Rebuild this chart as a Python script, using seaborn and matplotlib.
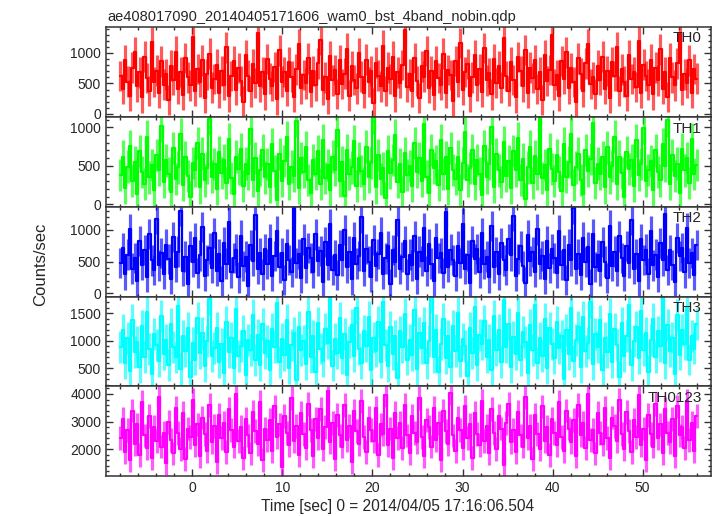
import numpy as np
import pandas as pd
import matplotlib
matplotlib.use('Agg')
import matplotlib.pyplot as plt
from matplotlib.ticker import MultipleLocator
import seaborn as sns

# light curve values (counts/sec), one list per band
th0 = [620, 410, 880, 530, 300, 760, 1010, 450, 680, 270, 940, 590, 380, 1180, 520, 710, 340, 860, 480, 650,
       230, 790, 560, 1020, 410, 690, 310, 920, 600, 470, 1260, 380, 740, 520, 880, 260, 650, 990, 430, 570,
       810, 350, 700, 480, 1090, 290, 620, 870, 400, 750, 540, 200, 960, 630, 370, 820, 510, 1330, 450, 680,
       320, 900, 580, 460, 770, 240, 1040, 530, 690, 380, 850, 610, 280, 730, 1150, 420, 640, 500, 910, 360,
       700, 470, 830, 1210, 390, 600, 250, 950, 550, 720, 330, 880, 490, 660, 1070, 300, 780, 560, 420, 1000,
       610, 340, 890, 520, 700, 180, 840, 630, 450, 1120, 380, 760, 570, 940, 290, 680, 510, 800, 1370, 440,
       650, 370, 920, 540, 260, 780, 610, 1030, 430, 700, 310, 860, 590, 480, 990, 350, 720, 640, 210, 870,
       530, 1160, 400, 690, 820, 290, 600, 960, 470, 740, 360, 1080, 550, 670, 320, 900, 510, 780, 430, 1240,
       620, 380, 850, 560, 270, 930, 700, 450, 1050, 340, 760, 590, 880, 410, 680, 230, 970, 540, 720, 1290,
       480, 640, 300, 870, 580, 1010, 420, 750, 520, 190, 910, 660, 370, 830, 1140, 490, 600, 330, 790, 560,
       940, 410, 700, 260, 850, 620, 1100, 380, 730, 530, 300, 960, 570, 680, 440, 1200, 350, 810, 620, 480,
       890, 320, 760, 550, 1060, 410, 690, 280, 920, 600, 470, 830, 1310, 390, 650, 510, 880, 340, 740, 580]
th1 = [380, 620, 210, 490, 760, 300, 550, 140, 690, 420, 260, 880, 350, 510, 180, 640, 450, 1020, 290, 570,
       400, 160, 730, 330, 480, 910, 250, 610, 370, 90, 540, 440, 800, 220, 660, 310, 470, 1110, 360, 520,
       200, 680, 410, 570, 280, 850, 340, 130, 620, 460, 720, 240, 530, 390, 980, 310, 600, 170, 450, 700,
       350, 520, 230, 780, 430, 60, 650, 300, 560, 870, 270, 490, 370, 1080, 210, 600, 420, 740, 320, 150,
       580, 400, 690, 260, 830, 340, 510, 190, 620, 450, 960, 300, 550, 110, 710, 390, 480, 820, 240, 600,
       430, 270, 750, 360, 540, 1130, 220, 640, 330, 470, 80, 690, 410, 580, 900, 290, 520, 160, 670, 380,
       500, 240, 800, 420, 600, 300, 1050, 360, 150, 710, 470, 560, 250, 840, 390, 610, 200, 730, 450, 330,
       620, 180, 540, 940, 310, 470, 700, 270, 580, 400, 120, 760, 350, 520, 1000, 230, 650, 440, 290, 810,
       370, 560, 210, 690, 440, 860, 320, 590, 70, 480, 750, 280, 630, 400, 1120, 340, 510, 190, 720, 460,
       300, 640, 420, 170, 790, 360, 550, 920, 250, 480, 660, 320, 140, 710, 430, 590, 1060, 280, 530, 390,
       610, 220, 740, 350, 500, 880, 270, 620, 410, 100, 680, 460, 570, 240, 830, 380, 520, 990, 300, 450,
       560, 190, 700, 420, 310, 780, 500, 1090, 260, 640, 370, 530, 150, 720, 440, 600, 280, 850, 390, 510]
th2 = [480, 720, 300, 610, 1010, 390, 560, 200, 830, 450, 680, 260, 940, 520, 370, 1180, 440, 640, 310, 770,
       540, 230, 890, 420, 660, 1300, 350, 580, 150, 740, 490, 870, 320, 600, 1050, 280, 520, 710, 400, 950,
       360, 620, 190, 800, 470, 1120, 330, 560, 690, 250, 910, 430, 580, 120, 760, 510, 1240, 380, 640, 300,
       700, 460, 860, 270, 590, 980, 410, 640, 210, 780, 530, 340, 1350, 480, 620, 240, 850, 400, 720, 560,
       330, 930, 510, 670, 180, 810, 450, 1090, 370, 600, 290, 760, 520, 1000, 410, 660, 220, 880, 470, 590,
       1200, 350, 700, 500, 260, 840, 430, 620, 960, 310, 550, 740, 140, 680, 490, 1150, 380, 570, 820, 300,
       610, 440, 900, 230, 660, 510, 1030, 350, 780, 470, 200, 870, 560, 640, 320, 1280, 420, 690, 530, 270,
       750, 480, 1100, 390, 600, 160, 820, 540, 700, 330, 950, 460, 580, 250, 1060, 410, 650, 300, 790, 520,
       370, 860, 600, 1220, 280, 540, 740, 430, 170, 920, 510, 650, 340, 1010, 470, 590, 230, 830, 400, 700,
       560, 320, 990, 450, 680, 210, 770, 520, 1340, 380, 620, 290, 880, 490, 730, 150, 940, 420, 600, 360,
       810, 500, 240, 1070, 430, 660, 350, 900, 560, 270, 750, 480, 1160, 390, 620, 200, 850, 530, 690, 310,
       980, 440, 610, 260, 790, 520, 1250, 370, 680, 450, 180, 870, 590, 720, 330, 1030, 480, 640, 290, 760]
th3 = [880, 1200, 600, 1050, 450, 1380, 790, 980, 520, 1270, 700, 1530, 850, 400, 1120, 930, 640, 1450, 760, 1010,
       560, 1310, 890, 700, 1640, 480, 1080, 820, 1230, 350, 960, 660, 1410, 780, 1150, 540, 1000, 1760, 720, 870,
       1240, 610, 950, 420, 1350, 800, 1060, 500, 1570, 730, 900, 1180, 380, 1020, 840, 1470, 650, 1100, 560, 1300,
       780, 990, 460, 1220, 880, 1690, 620, 1030, 740, 1380, 510, 920, 1150, 290, 1260, 830, 1000, 580, 1520, 700,
       1090, 430, 1330, 860, 640, 1210, 960, 1780, 550, 1040, 770, 1420, 680, 1130, 370, 980, 1290, 720, 1600, 850,
       590, 1180, 910, 1440, 470, 1060, 810, 1350, 620, 1710, 930, 540, 1250, 760, 1080, 320, 1170, 880, 1480, 660,
       1010, 740, 1560, 480, 1140, 870, 1320, 600, 1000, 1800, 710, 1200, 430, 940, 1390, 690, 1090, 520, 1270, 820,
       1500, 630, 1040, 900, 360, 1230, 780, 1620, 560, 1110, 950, 1360, 700, 1020, 460, 1450, 840, 1190, 610, 1740,
       890, 1300, 520, 1070, 760, 1510, 650, 1160, 980, 410, 1280, 830, 1660, 600, 1050, 720, 1400, 500, 1230, 940,
       690, 1340, 870, 1080, 300, 1190, 760, 1590, 640, 1020, 1250, 530, 1430, 810, 960, 1700, 580, 1120, 880, 1370,
       470, 1060, 790, 1480, 620, 1210, 930, 350, 1330, 720, 1080, 1650, 560, 990, 1260, 680, 1550, 840, 1140, 440,
       1020, 1390, 710, 1170, 900, 1790, 590, 1280, 820, 1060, 400, 1470, 750, 1200, 950, 1620, 660, 1090, 860, 1310]
th0123 = [2400, 3100, 1900, 2700, 1600, 3400, 2200, 2900, 1800, 3700, 2500, 2050, 3200, 1700, 2800, 2300, 3900, 2100, 2600, 1500,
          3000, 2350, 1850, 3500, 2600, 2000, 3300, 1650, 2750, 2450, 3800, 2150, 2900, 1750, 3150, 2550, 1950, 3600, 2250, 2850,
          1550, 3250, 2400, 2950, 1900, 3450, 2700, 2100, 4000, 2300, 2800, 1700, 3100, 2500, 1850, 3350, 2650, 2200, 3700, 1600,
          2750, 2350, 3050, 1950, 3550, 2450, 2900, 1350, 3200, 2600, 2150, 3850, 2300, 2850, 1800, 3300, 2550, 2050, 3650, 2700,
          1750, 3100, 2400, 3450, 2000, 2800, 4100, 2250, 2950, 1650, 3250, 2500, 2100, 3600, 2350, 2850, 1550, 3400, 2650, 2200,
          3750, 2450, 1900, 3150, 2700, 2300, 3500, 1800, 2900, 2550, 3950, 2150, 2750, 1700, 3300, 2400, 2950, 2050, 3600, 2500,
          1850, 3200, 2600, 2250, 3850, 2450, 1750, 3050, 2800, 2100, 3500, 2350, 2950, 1600, 3400, 2650, 2200, 4050, 2500, 1950,
          3150, 2700, 2050, 3550, 2400, 2900, 1700, 3300, 2550, 2150, 3750, 2300, 2850, 1850, 3450, 2600, 2000, 3200, 2750, 1450,
          2950, 3650, 2250, 2700, 1900, 3350, 2500, 2100, 3900, 2400, 2850, 1650, 3250, 2550, 2000, 3550, 2300, 2800, 1800, 3100,
          2600, 2150, 3700, 2450, 1950, 3400, 2750, 2250, 3050, 1750, 3600, 2500, 2950, 2050, 4000, 2350, 2700, 1850, 3300, 2600,
          2200, 3500, 2400, 1700, 3150, 2850, 2300, 3800, 2550, 2000, 3350, 2650, 1900, 3050, 2450, 3950, 2150, 2750, 1600, 3250,
          2550, 2100, 3650, 2400, 2900, 1850, 3450, 2600, 2250, 3100, 1750, 3550, 2500, 2800, 2050, 3750, 2350, 2950, 1950, 3200]

# typical 1-sigma error per band
band_err = [250, 210, 240, 290, 430]
band_names = ['TH0', 'TH1', 'TH2', 'TH3', 'TH0123']
t_start, t_stop = -8.0, 56.0

title = 'ae408017090_20140405171606_wam0_bst_4band_nobin.qdp'
xlabel = 'Time [sec] 0 = 2014/04/05 17:16:06.504'
ylabel = 'Counts/sec'

sns.set_style('ticks')
plt.rcParams['font.family'] = ['Liberation Sans', 'DejaVu Sans']
plt.rcParams['font.size'] = 10

colors = ['#ff0000', '#00ff00', '#0000ff', '#00ffff', '#ff00ff']
ylims = [(-50, 1425), (-35, 1135), (-58, 1363), (178, 1797), (1036, 4289)]
major = [500, 500, 500, 500, 1000]
minor = [100, 100, 100, 100, 200]
series = [th0, th1, th2, th3, th0123]

fig = plt.figure(figsize=(7.17, 5.16), dpi=100)
W, H = 717, 516
left, right = 106, 711
edges = [27, 117, 207, 297, 386, 476]

for i in range(5):
    y = np.array(series[i], dtype=float)
    t = np.linspace(t_start, t_stop, len(y))
    df = pd.DataFrame({'time': t, 'rate': y})
    top, bot = edges[i], edges[i + 1]
    ax = fig.add_axes([left / W, 1 - bot / H, (right - left) / W, (bot - top) / H])
    # error bars, lighter tint
    ax.vlines(df['time'], df['rate'] - band_err[i], df['rate'] + band_err[i],
              color=colors[i], alpha=0.65, linewidth=2.3)
    sns.lineplot(x='time', y='rate', data=df, ax=ax, color=colors[i],
                 linewidth=1.6, estimator=None, drawstyle='steps-mid')
    ax.set_xlim(-9.6, 57.6)
    ax.set_ylim(*ylims[i])
    ax.xaxis.set_major_locator(MultipleLocator(10))
    ax.xaxis.set_minor_locator(MultipleLocator(2))
    ax.yaxis.set_major_locator(MultipleLocator(major[i]))
    ax.yaxis.set_minor_locator(MultipleLocator(minor[i]))
    ax.tick_params(which='both', direction='in', top=True, right=True, color='#333333', width=1)
    ax.tick_params(which='major', length=5, labelsize=10)
    ax.tick_params(which='minor', length=2.5)
    for s in ax.spines.values():
        s.set_color('#333333')
        s.set_linewidth(1.1)
    ax.set_xlabel('')
    ax.set_ylabel('')
    if i < 4:
        ax.tick_params(labelbottom=False)
    ax.text(0.985, 0.95, band_names[i], transform=ax.transAxes, ha='right', va='top', fontsize=11)

fig.text(107 / W, 1 - 21 / H, title, ha='left', va='baseline', fontsize=10.5)
fig.text(41 / W, 1 - 264 / H, ylabel, rotation=90, ha='center', va='center', fontsize=12)
fig.text(398 / W, 1 - 507 / H, xlabel, ha='center', va='center', fontsize=11.2)

plt.savefig('out.png', dpi=100)
